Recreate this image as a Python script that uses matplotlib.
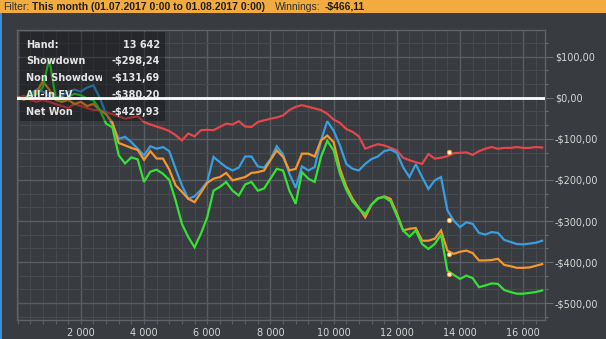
import matplotlib
matplotlib.use("Agg")
import matplotlib.pyplot as plt
from matplotlib.patches import Rectangle
from matplotlib.ticker import MultipleLocator, FixedLocator, FuncFormatter
from matplotlib.transforms import Bbox

plt.rcParams['font.family'] = ['DejaVu Sans']

# hand numbers (x) sampled along the graph
hands = list(range(0, 16601, 200))

showdown = [0, -3, 10, 20, 15, 5, 0, 5, 15, 20, 15, 25, 30, 0, -40, -65, -100,
            -95, -108, -124, -140, -118, -124, -120, -130, -173, -213, -246, -240, -224, -205, -144, -157, -169,
            -177, -170, -143, -143, -167, -170, -150, -118, -138, -185, -219, -167, -177, -169, -104, -57, -80,
            -116, -161, -173, -177, -161, -149, -143, -130, -126, -134, -169, -193, -162, -193, -222, -201, -193,
            -274, -299, -315, -303, -307, -329, -333, -327, -329, -346, -351, -356, -357, -355, -353, -348]

non_showdown = [0, 5, -5, -10, -5, -10, -15, -20, -25, -15, -20, -25, -30, -30, -35, -40, -45,
                -51, -48, -45, -59, -65, -70, -75, -81, -91, -104, -87, -94, -79, -78, -79, -71, -63,
                -65, -57, -70, -71, -59, -55, -51, -48, -43, -30, -22, -18, -22, -26, -30, -39, -53,
                -61, -76, -83, -94, -124, -118, -113, -116, -122, -128, -146, -152, -157, -161, -137, -148, -146,
                -142, -135, -134, -133, -139, -130, -124, -120, -124, -122, -122, -120, -122, -122, -120, -121]

allin_ev = [0, -5, 0, 15, 40, 20, -5, -10, -5, -15, -10, -20, -15, -30, -40, -60, -110,
            -116, -122, -127, -151, -130, -148, -148, -175, -213, -229, -246, -254, -231, -207, -197, -193, -183,
            -201, -197, -193, -183, -181, -177, -152, -128, -144, -177, -173, -136, -136, -143, -104, -92, -108,
            -173, -216, -246, -268, -291, -260, -246, -240, -246, -281, -323, -319, -317, -348, -348, -343, -323,
            -372, -380, -375, -372, -378, -396, -396, -395, -392, -407, -410, -414, -414, -413, -409, -405]

net_won = [0, -2, 6, 8, 26, 95, 2, -5, 2, 10, 6, -2, -6, -29, -63, -72, -140,
           -160, -145, -150, -205, -180, -175, -185, -200, -250, -307, -339, -364, -331, -291, -226, -217, -205,
           -226, -238, -211, -205, -226, -221, -197, -173, -177, -226, -258, -181, -197, -205, -144, -105, -128,
           -185, -224, -252, -270, -283, -260, -244, -242, -252, -287, -323, -338, -323, -356, -368, -356, -333,
           -421, -431, -441, -433, -439, -461, -457, -452, -453, -468, -473, -477, -477, -475, -473, -469]

# tooltip at the cursor
cursor_hand = 13642
tip_labels = ["Showdown", "Non Showdown", "All-In EV", "Net Won"]
tip_values = [-298.24, -131.69, -380.20, -429.93]

series_names = ["Non Showdown", "Showdown", "All-In EV", "Net Won"]
series_data = [non_showdown, showdown, allin_ev, net_won]
series_colors = ['#e4474b', '#3a9de0', '#f4972f', '#36e036']

x_ticks = [2000, 4000, 6000, 8000, 10000, 12000, 14000, 16000]
y_ticks = [100, 0, -100, -200, -300, -400, -500]

BG = '#383b3f'
TXT = '#d6d6d6'
W, H = 606, 339

fig = plt.figure(figsize=(W / 100, H / 100), dpi=100, facecolor=BG)

# plot box in pixels
L, R, T, B = 17.3, 544.7, 30, 320
ax = fig.add_axes([L / W, 1 - B / H, (R - L) / W, (B - T) / H])
ax.set_facecolor(BG)

for name, vals, col in zip(series_names, series_data, series_colors):
    ax.plot(hands, vals, color=col, lw=1.6, label=name, zorder=3, solid_joinstyle='miter')

ax.set_xlim(-10, 16680)
ax.set_ylim(-541, 165)

# grid
ax.xaxis.set_major_locator(FixedLocator(x_ticks))
ax.xaxis.set_minor_locator(MultipleLocator(400))
ax.yaxis.set_major_locator(FixedLocator(y_ticks))
ax.yaxis.set_minor_locator(MultipleLocator(100 / 3))
ax.grid(which='major', color='#595c60', lw=1.0, zorder=0)
ax.grid(which='minor', color='#46494d', lw=0.8, zorder=0)
ax.set_axisbelow(True)

ax.yaxis.tick_right()
ax.tick_params(axis='y', which='major', length=5.5, width=0.8, color='#6a6d71',
               labelsize=7, labelcolor=TXT, pad=1.8)
ax.tick_params(axis='y', which='minor', length=2.4, width=0.8, color='#6a6d71')
ax.tick_params(axis='x', which='both', length=3, width=0.8, color='#5a5d61',
               labelsize=7, labelcolor=TXT, pad=2.5)


def money(v, pos=None):
    s = f"${abs(v):.2f}".replace(".", ",")
    return "-" + s if v < 0 else s


ax.yaxis.set_major_formatter(FuncFormatter(money))
ax.xaxis.set_major_formatter(FuncFormatter(lambda v, p: f"{int(v):,}".replace(",", " ")))
for sp in ax.spines.values():
    sp.set_color('#5f6266')
    sp.set_linewidth(1)


def fx(px):
    return (px - L) / (R - L)


def fy(py):
    return (B - py) / (B - T)


# tooltip box
ax.add_patch(Rectangle((fx(20), fy(121)), fx(165) - fx(20), fy(32) - fy(121),
                       transform=ax.transAxes, facecolor='black', alpha=0.33,
                       edgecolor='none', zorder=4))
ax.axhline(0, color='white', lw=2, zorder=5)

rows = [("Hand:", f"{cursor_hand:,}".replace(",", " "))] + \
       [(lab, money(v)) for lab, v in zip(tip_labels, tip_values)]
row_y = [45, 61.5, 78, 95, 112]
clip = Bbox.from_extents(0, 0, 102, H)
for (lab, val), yy in zip(rows, row_y):
    t = ax.text(fx(26), fy(yy), lab, transform=ax.transAxes, color='#e4e4e4',
                fontsize=7, fontweight='bold', va='center', ha='left', zorder=6)
    t.set_clip_box(clip)
    t.set_clip_on(True)
    ax.text(fx(160), fy(yy), val, transform=ax.transAxes, color='#e4e4e4',
            fontsize=7, fontweight='bold', va='center', ha='right', zorder=6)

# cursor markers
ax.scatter([cursor_hand] * 4, tip_values, s=10, facecolor='#fff0d6',
           edgecolor='#f0a040', linewidth=0.7, zorder=7)

# header bar
fig.patches.append(Rectangle((0, 1 - 12.5 / H), 1, 12.5 / H, transform=fig.transFigure,
                             facecolor='#f2ab3e', edgecolor='none', zorder=0))
fig.patches.append(Rectangle((0, 0), 1.5 / W, 1 - 12.5 / H, transform=fig.transFigure,
                             facecolor='#3a8fd8', edgecolor='none', zorder=0))
hy = 1 - 6.8 / H
hdr = dict(fontsize=7.5, va='center', ha='left', family='Liberation Sans')
fig.text(3 / W, hy, "Filter:", color='#303030', **hdr)
fig.text(31.7 / W, hy, "This month (01.07.2017 0:00 to 01.08.2017 0:00)",
         fontweight='bold', color='#1e1e1e', **hdr)
fig.text(275 / W, hy, "Winnings:", color='#303030', **hdr)
fig.text(325 / W, hy, "-$466,11", fontweight='bold', color='#1e1e1e', **hdr)

fig.savefig("out.png", dpi=100, facecolor=BG)
